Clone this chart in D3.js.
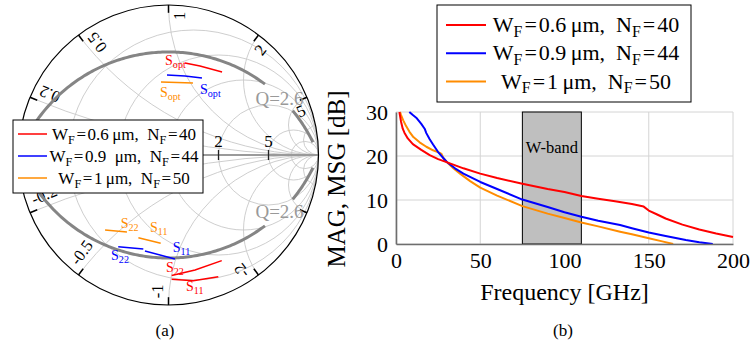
<!DOCTYPE html>
<html>
<head>
<meta charset="utf-8">
<script src="https://cdn.jsdelivr.net/npm/d3@7/dist/d3.min.js"></script>
<style>
  body { margin: 0; background: #fff; }
  svg text { font-family: "Liberation Serif", "Times New Roman", serif; }
</style>
</head>
<body>
<svg id="fig" width="752" height="347"></svg>
<script>
// device variants: finger width W_F (um) and finger count N_F
var seriesW = ["0.6", "0.9", "1"];
var seriesN = ["40", "44", "50"];
var colors = ["#ff0000", "#0000ff", "#ff8c00"];

// (b) MAG / MSG [dB] vs frequency [GHz]
var freqRed = [2, 3, 4, 5, 7, 10, 15, 20, 25, 30, 40, 50, 60, 75, 90, 100, 110, 120, 130, 140, 147, 150, 155, 160, 170, 180, 190, 200];
var gainRed = [30, 27.8, 26.2, 25.3, 24, 22.7, 21.4, 20.2, 19.3, 18.6, 17.2, 16.0, 15.0, 13.7, 12.5, 11.8, 10.9, 10.3, 9.7, 9.1, 8.5, 7.6, 6.7, 5.8, 4.4, 3.3, 2.4, 1.6];
var freqBlue = [7.9, 10, 12, 15, 17, 18, 20, 22, 25, 30, 35, 40, 50, 60, 75, 90, 100, 110, 120, 133, 140, 150, 160, 172, 180, 188];
var gainBlue = [30, 29.3, 28.7, 27.3, 26.2, 25.2, 23.8, 22.6, 20.9, 18.7, 17.2, 16.0, 14.1, 12.5, 10.1, 8.4, 7.2, 6.2, 5.3, 4.3, 3.6, 2.6, 1.8, 0.9, 0.4, 0];
var freqOrange = [2.4, 3, 4.3, 6, 8, 10.3, 14, 18, 22, 26, 27, 28, 30, 34, 38, 44, 50, 60, 75, 90, 100, 110, 120, 133, 140, 150, 158, 164.5];
var gainOrange = [30, 29.3, 28.1, 26.8, 25.5, 24.3, 23.1, 22.1, 21.3, 20.7, 20.5, 19.6, 18.7, 17.2, 16.0, 14.3, 12.8, 11.0, 8.6, 6.9, 5.9, 4.9, 4.0, 2.8, 2.2, 1.3, 0.6, 0];
var xTicks = [0, 50, 100, 150, 200];
var yTicks = [0, 10, 20, 30];
var wBand = [75, 110];

// (a) reflection coefficients [re, im]
var soptRed = [[0.110, 0.613], [0.210, 0.593], [0.357, 0.553]];
var soptBlue = [[-0.010, 0.533], [0.110, 0.527], [0.223, 0.513]];
var soptOrange = [[-0.050, 0.487], [0.057, 0.483], [0.163, 0.480]];
var s11Red = [[0.021, -0.829], [0.165, -0.838], [0.332, -0.811]];
var s22Red = [[0.021, -0.804], [0.177, -0.767], [0.355, -0.704]];
var s11Blue = [[-0.157, -0.640], [0.043, -0.693]];
var s22Blue = [[-0.335, -0.611], [-0.168, -0.627]];
var s11Orange = [[-0.201, -0.551], [-0.052, -0.589]];
var s22Orange = [[-0.423, -0.500], [-0.277, -0.513]];
var rGrid = [0.2, 0.5, 1, 2, 5, 10];
var xGrid = [0.2, 0.5, 1, 2, 5, 10];
var rLabels = [2, 5];                       // the others sit under the legend
var xTicksRim = [0.2, 0.5, 1, 2, 5, -0.2, -0.5, -1, -2, -5];
var xLabels = [0.2, 0.5, 1, 2, 5, -0.2, -0.5, -1, -2];
var qValue = 2.6;

var svg = d3.select("#fig");
svg.append("rect").attr("width", 752).attr("height", 347).attr("fill", "#fff");

function rich(sel, parts, fs) {
  var shift = 0;
  parts.forEach(function(p) {
    var ts = sel.append("tspan").text(p.t);
    var want = p.sub ? fs * 0.22 : 0;
    if (want !== shift) { ts.attr("dy", want - shift); shift = want; }
    if (p.sub) ts.attr("font-size", fs * 0.72);
    if (p.dx) ts.attr("dx", p.dx);
  });
}
function legendParts(i, fs, gap) {
  var e = fs * 0.09;
  return [{t: "W"}, {t: "F", sub: 1}, {t: "=", dx: e}, {t: seriesW[i] + gap + "\u03bcm,\u2002N", dx: e},
          {t: "F", sub: 1}, {t: "=", dx: e}, {t: seriesN[i], dx: e}];
}

// ---------- (a) Smith chart ----------
var cx = 168.5, cy = 155, R = 150;
var gx = d3.scaleLinear().domain([-1, 1]).range([cx - R, cx + R]);
var gy = d3.scaleLinear().domain([-1, 1]).range([cy + R, cy - R]);
svg.append("defs").append("clipPath").attr("id", "unit")
  .append("circle").attr("cx", cx).attr("cy", cy).attr("r", R);

var smith = svg.append("g");
var grid = smith.append("g").attr("clip-path", "url(#unit)")
  .attr("fill", "none").attr("stroke", "#c8c8c8").attr("stroke-width", 0.9);
rGrid.forEach(function(r) {
  grid.append("circle").attr("cx", gx(r / (1 + r))).attr("cy", gy(0)).attr("r", R / (1 + r));
});
xGrid.forEach(function(x) {
  [x, -x].forEach(function(v) {
    grid.append("circle").attr("cx", gx(1)).attr("cy", gy(1 / v)).attr("r", R / Math.abs(v));
  });
});
smith.append("line").attr("x1", gx(-1)).attr("x2", gx(1)).attr("y1", gy(0)).attr("y2", gy(0))
  .attr("stroke", "#9a9a9a").attr("stroke-width", 2);
smith.append("circle").attr("cx", cx).attr("cy", cy).attr("r", R)
  .attr("fill", "none").attr("stroke", "#000").attr("stroke-width", 1.2);

// resistance labels on the real axis
rLabels.forEach(function(r) {
  var g = (r - 1) / (r + 1);
  smith.append("line").attr("x1", gx(g)).attr("x2", gx(g)).attr("y1", gy(0) - 5).attr("y2", gy(0) + 5)
    .attr("stroke", "#222").attr("stroke-width", 1.3);
  smith.append("text").attr("x", gx(g)).attr("y", gy(0) - 8).attr("text-anchor", "middle")
    .attr("font-size", 17).text(r);
});
// reactance ticks and labels round the rim
function rimAngle(x) { return Math.atan2(2 * x, x * x - 1); }
xTicksRim.forEach(function(x) {
  var th = rimAngle(x), c = Math.cos(th), s = Math.sin(th);
  smith.append("line").attr("x1", gx(c)).attr("y1", gy(s)).attr("x2", gx(0.948 * c)).attr("y2", gy(0.948 * s))
    .attr("stroke", "#000").attr("stroke-width", 1.5);
});
xLabels.forEach(function(x) {
  var th = rimAngle(x), c = Math.cos(th), s = Math.sin(th);
  var deg = th * 180 / Math.PI, upper = x > 0;
  var rot = upper ? -deg : 180 - deg;
  smith.append("text")
    .attr("transform", "translate(" + gx(0.955 * c) + "," + gy(0.955 * s) + ") rotate(" + rot + ")")
    .attr("y", upper ? 16 : -5.5)
    .attr("text-anchor", upper ? "end" : "start")
    .attr("font-size", 16.5).text(x);
});

// constant-Q contours
var qc = 1 / qValue, qR = Math.sqrt(1 + qc * qc);
var qSegs = [[-1, 0.643], [0.828, 0.963]];
var gLine = d3.line().x(function(d) { return gx(d[0]); }).y(function(d) { return gy(d[1]); });
[1, -1].forEach(function(sg) {
  qSegs.forEach(function(seg) {
    var pts = d3.range(0, 121).map(function(i) {
      var x = seg[0] + (seg[1] - seg[0]) * i / 120;
      return [x, sg * (-qc + Math.sqrt(qR * qR - x * x))];
    });
    smith.append("path").attr("d", gLine(pts)).attr("fill", "none")
      .attr("stroke", "#858585").attr("stroke-width", 3);
  });
  smith.append("text").attr("x", gx(0.74)).attr("y", gy(sg > 0 ? 0.333 : -0.42))
    .attr("text-anchor", "middle").attr("font-size", 19).attr("fill", "#999")
    .text("Q=" + qValue);
});

// measured traces
var traces = [
  {d: soptRed, c: 0, sub: "opt", at: [-0.023, 0.600]},
  {d: soptBlue, c: 1, sub: "opt", at: [0.210, 0.407]},
  {d: soptOrange, c: 2, sub: "opt", at: [-0.057, 0.387]},
  {d: s22Orange, c: 2, sub: "22", at: [-0.319, -0.487]},
  {d: s11Orange, c: 2, sub: "11", at: [-0.123, -0.513]},
  {d: s22Blue, c: 1, sub: "22", at: [-0.383, -0.700]},
  {d: s11Blue, c: 1, sub: "11", at: [0.028, -0.647]},
  {d: s22Red, c: 0, sub: "22", at: [-0.017, -0.778]},
  {d: s11Red, c: 0, sub: "11", at: [0.117, -0.905]}
];
traces.forEach(function(t) {
  smith.append("path").attr("d", gLine(t.d)).attr("fill", "none")
    .attr("stroke", colors[t.c]).attr("stroke-width", 1.5);
  var lab = smith.append("text").attr("x", gx(t.at[0])).attr("y", gy(t.at[1]))
    .attr("font-size", 14).attr("fill", colors[t.c]);
  rich(lab, [{t: "S"}, {t: t.sub, sub: 1}], 14);
});

// legend (a)
var la = smith.append("g");
la.append("rect").attr("x", 13).attr("y", 120).attr("width", 190).attr("height", 73)
  .attr("fill", "#fff").attr("stroke", "#000").attr("stroke-width", 1);
var gapsA = ["\u2009", "\u2002", "\u2009"];
seriesW.forEach(function(w, i) {
  var y = 134 + i * 22;
  la.append("line").attr("x1", 18).attr("x2", 47).attr("y1", y).attr("y2", y)
    .attr("stroke", colors[i]).attr("stroke-width", 1.5);
  var t = la.append("text").attr("x", 124).attr("y", y + 6).attr("text-anchor", "middle").attr("font-size", 17);
  rich(t, legendParts(i, 17, gapsA[i]), 17);
});
svg.append("text").attr("x", 165).attr("y", 336).attr("text-anchor", "middle").attr("font-size", 17).text("(a)");

// ---------- (b) MAG / MSG ----------
var x = d3.scaleLinear().domain([0, 200]).range([396, 733]);
var y = d3.scaleLinear().domain([0, 30]).range([244, 112]);
var pb = svg.append("g");
svg.select("defs").append("clipPath").attr("id", "plotb")
  .append("rect").attr("x", 396).attr("y", 111).attr("width", 338).attr("height", 134);

var gridB = pb.append("g").attr("stroke", "#d4d4d4").attr("stroke-width", 1);
xTicks.forEach(function(t) {
  gridB.append("line").attr("x1", x(t)).attr("x2", x(t)).attr("y1", y(0)).attr("y2", y(30));
});
yTicks.forEach(function(t) {
  gridB.append("line").attr("x1", x(0)).attr("x2", x(200)).attr("y1", y(t)).attr("y2", y(t));
});
pb.append("rect").attr("x", x(wBand[0])).attr("y", y(30)).attr("width", x(wBand[1]) - x(wBand[0]))
  .attr("height", y(0) - y(30)).attr("fill", "#bfbfbf").attr("stroke", "#000").attr("stroke-width", 1);
pb.append("text").attr("x", x((wBand[0] + wBand[1]) / 2)).attr("y", 153).attr("text-anchor", "middle")
  .attr("font-size", 16.5).text("W-band");

var line = d3.line().x(function(d) { return x(d[0]); }).y(function(d) { return y(d[1]); });
var curves = [d3.zip(freqRed, gainRed), d3.zip(freqBlue, gainBlue), d3.zip(freqOrange, gainOrange)];
var cg = pb.append("g").attr("clip-path", "url(#plotb)");
[2, 1, 0].forEach(function(i) {
  cg.append("path").attr("d", line(curves[i])).attr("fill", "none")
    .attr("stroke", colors[i]).attr("stroke-width", 2).attr("stroke-linejoin", "round");
});

var ax = pb.append("g").attr("transform", "translate(0," + y(0) + ")")
  .call(d3.axisBottom(x).tickValues(xTicks).tickSize(0).tickPadding(8));
var ay = pb.append("g").attr("transform", "translate(" + x(0) + ",0)")
  .call(d3.axisLeft(y).tickValues(yTicks).tickSize(0).tickPadding(8));
[ax, ay].forEach(function(a) {
  a.select(".domain").attr("stroke", "#6e6e6e").attr("stroke-width", 1.6);
  a.selectAll("text").attr("font-size", 22).attr("fill", "#000")
    .attr("font-family", '"Liberation Serif","Times New Roman",serif');
});
pb.append("text").attr("x", 564.5).attr("y", 300).attr("text-anchor", "middle").attr("font-size", 24)
  .text("Frequency [GHz]");
pb.append("text").attr("transform", "translate(345,179) rotate(-90)").attr("text-anchor", "middle")
  .attr("font-size", 25).text("MAG, MSG [dB]");

// legend (b)
var lb = svg.append("g");
lb.append("rect").attr("x", 437).attr("y", 5).attr("width", 254).attr("height", 97)
  .attr("fill", "#fff").attr("stroke", "#000").attr("stroke-width", 1);
seriesW.forEach(function(w, i) {
  var yy = 25 + i * 28.3;
  lb.append("line").attr("x1", 446).attr("x2", 486).attr("y1", yy).attr("y2", yy)
    .attr("stroke", colors[i]).attr("stroke-width", 2);
  var t = lb.append("text").attr("x", 586).attr("y", yy + 7).attr("text-anchor", "middle").attr("font-size", 22);
  rich(t, legendParts(i, 22, "\u2009"), 22);
});
svg.append("text").attr("x", 563).attr("y", 336).attr("text-anchor", "middle").attr("font-size", 17).text("(b)");
</script>
</body>
</html>
